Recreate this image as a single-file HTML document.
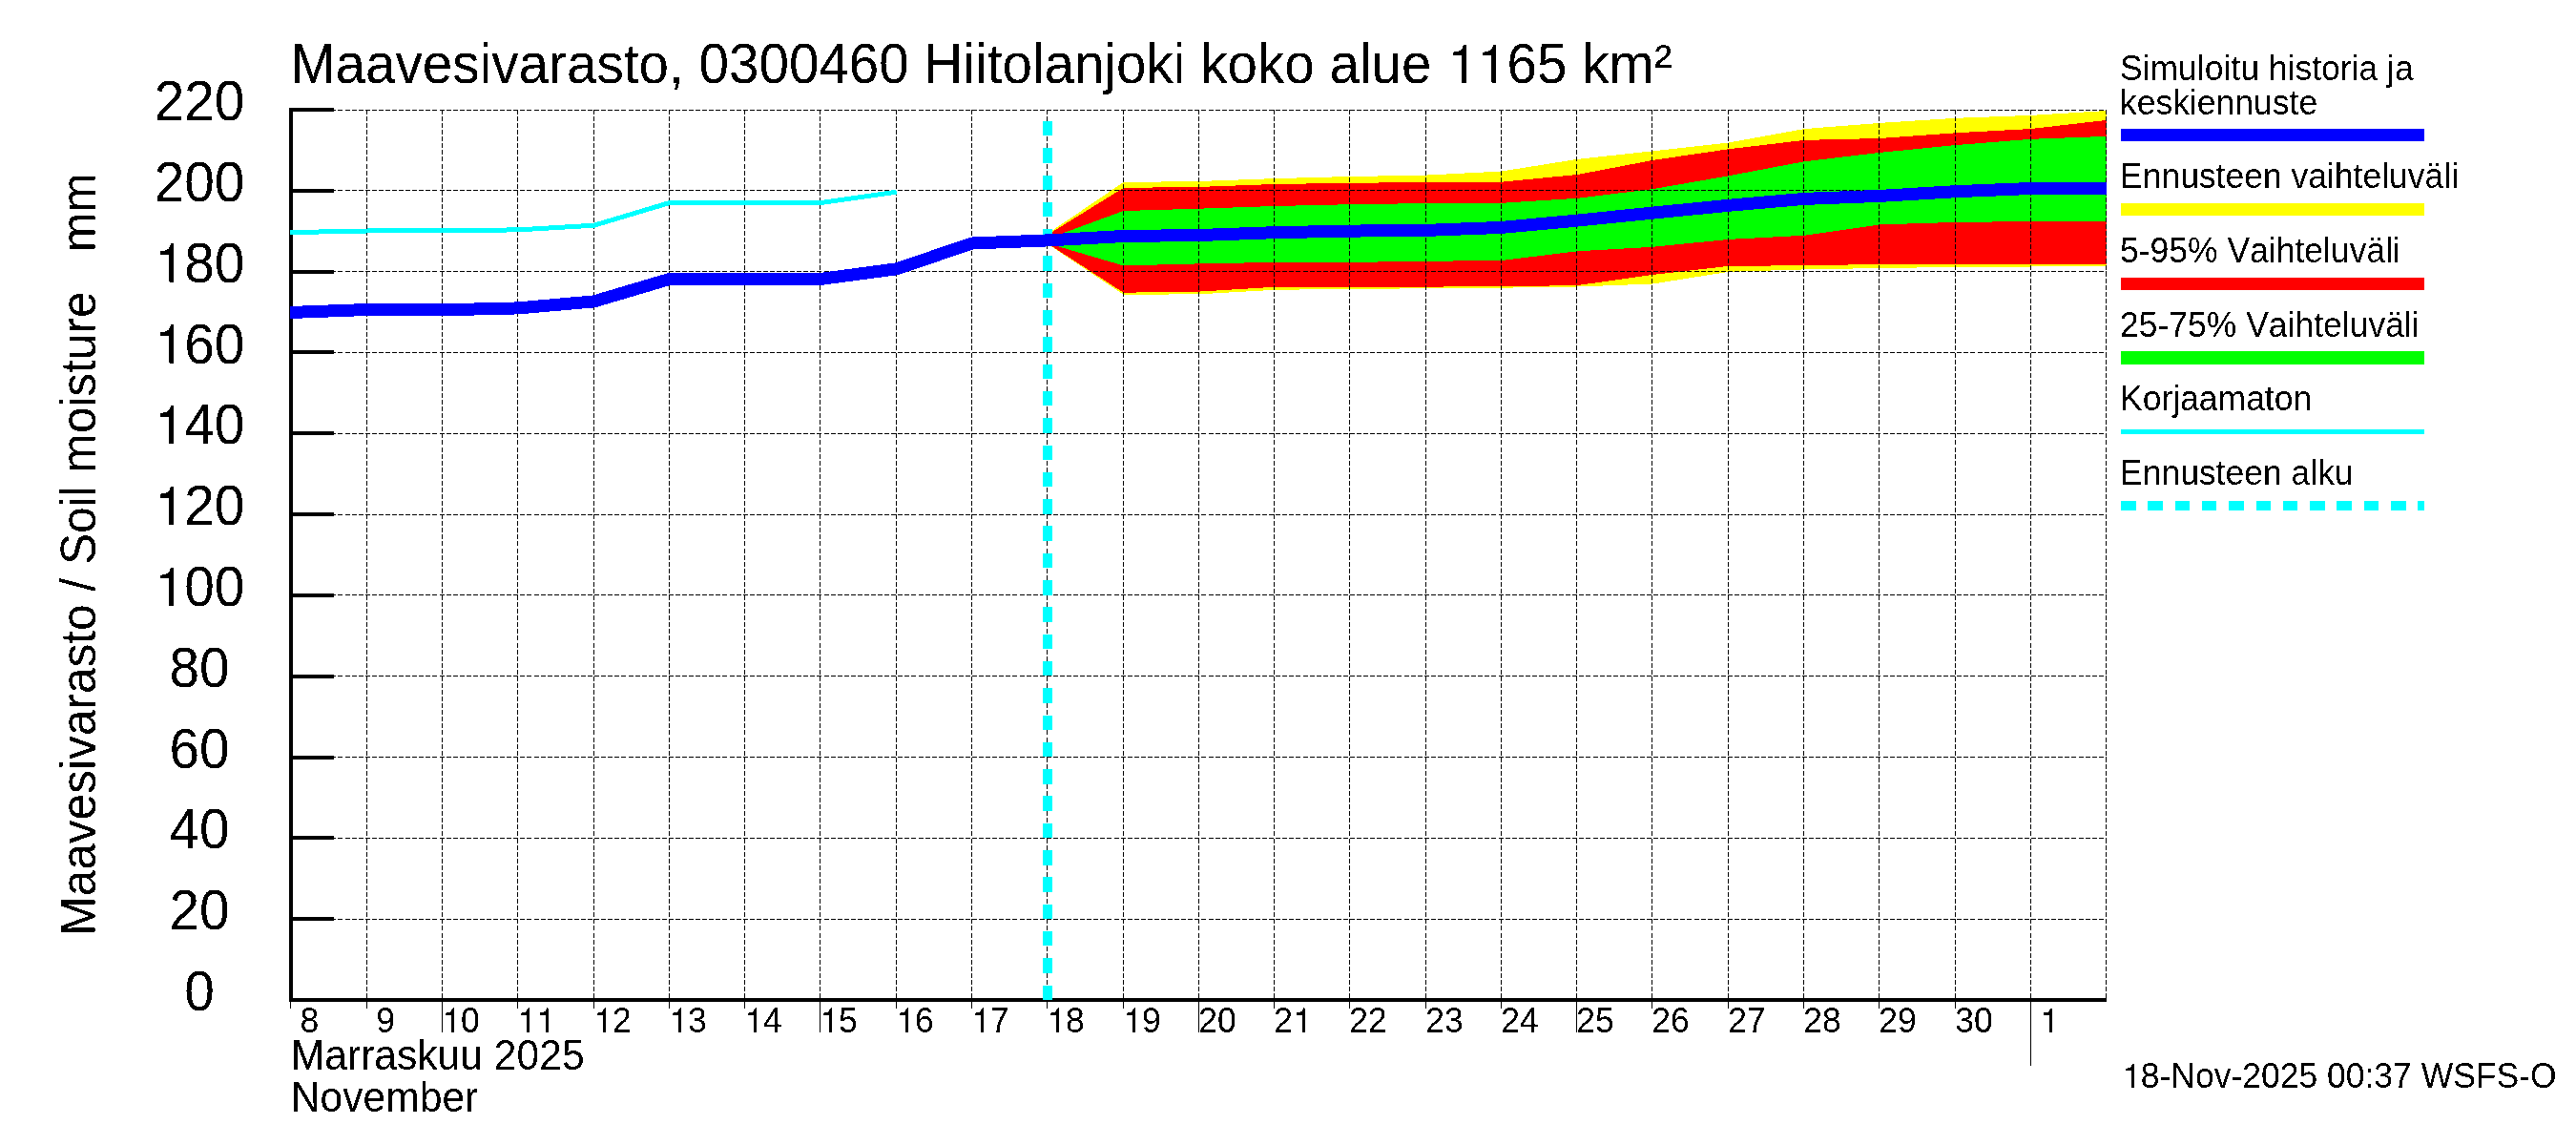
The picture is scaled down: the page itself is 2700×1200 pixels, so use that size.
<!DOCTYPE html>
<html><head><meta charset="utf-8"><title>Maavesivarasto</title>
<style>
html,body{margin:0;padding:0;background:#fff;}
body{width:2700px;height:1200px;overflow:hidden;}
svg{display:block;}
text{font-family:"Liberation Sans",sans-serif;fill:#000;font-kerning:none;}
.g{stroke:#000;stroke-width:1;stroke-dasharray:5 2.07;fill:none;}
.t{stroke:#000;stroke-width:1;}
.ax{stroke:#000;stroke-width:4;}
</style></head><body>
<svg width="2700" height="1200" viewBox="0 0 2700 1200" shape-rendering="crispEdges">
<rect x="0" y="0" width="2700" height="1200" fill="#fff"/>
<polygon fill="#ffff00" points="1098.2,244.8 1177.5,191 1256.8,190 1336.1,187.1 1415.4,185 1494.6,183.6 1573.9,179.5 1653.2,166.9 1732.5,158.3 1811.7,149.5 1891,135.1 1970.3,128.9 2049.6,123.8 2128.8,120.9 2208.1,116 2208.1,278.9 2128.8,279.5 2049.6,280 1970.3,281 1891,282.4 1811.7,284.9 1732.5,297.5 1653.2,300.5 1573.9,301.7 1494.6,302.3 1415.4,302.9 1336.1,303.8 1256.8,308.3 1177.5,308.8 1098.2,255.9"/>
<polygon fill="#ff0000" points="1098.2,246 1177.5,196.9 1256.8,195.9 1336.1,193 1415.4,191.8 1494.6,191 1573.9,190.7 1653.2,183 1732.5,167.9 1811.7,156.3 1891,146.9 1970.3,145 2049.6,139.3 2128.8,135 2208.1,125.9 2208.1,277 2128.8,277 2049.6,277 1970.3,277 1891,278.2 1811.7,278.9 1732.5,287.9 1653.2,299.1 1573.9,300.2 1494.6,300.6 1415.4,300.5 1336.1,300.8 1256.8,305.6 1177.5,306.7 1098.2,255.3"/>
<polygon fill="#00ff00" points="1098.2,250.2 1177.5,221 1256.8,218.7 1336.1,216 1415.4,214.2 1494.6,213.1 1573.9,212.8 1653.2,207.8 1732.5,198.1 1811.7,184.3 1891,169.3 1970.3,159.9 2049.6,152.1 2128.8,145.8 2208.1,142.9 2208.1,232.1 2128.8,232.1 2049.6,232.9 1970.3,235.4 1891,246.8 1811.7,250.9 1732.5,258.8 1653.2,263.3 1573.9,273 1494.6,273.8 1415.4,274.9 1336.1,274.9 1256.8,276.4 1177.5,278.4 1098.2,255.1"/>
<line class="g" x1="305" y1="963.5" x2="2208" y2="963.5"/>
<line class="g" x1="305" y1="878.5" x2="2208" y2="878.5"/>
<line class="g" x1="305" y1="793.5" x2="2208" y2="793.5"/>
<line class="g" x1="305" y1="708.5" x2="2208" y2="708.5"/>
<line class="g" x1="305" y1="623.5" x2="2208" y2="623.5"/>
<line class="g" x1="305" y1="539.5" x2="2208" y2="539.5"/>
<line class="g" x1="305" y1="454.5" x2="2208" y2="454.5"/>
<line class="g" x1="305" y1="369.5" x2="2208" y2="369.5"/>
<line class="g" x1="305" y1="284.5" x2="2208" y2="284.5"/>
<line class="g" x1="305" y1="199.5" x2="2208" y2="199.5"/>
<line class="g" x1="305" y1="115.5" x2="2208" y2="115.5"/>
<line class="g" x1="384.5" y1="115" x2="384.5" y2="1048"/>
<line class="g" x1="463.5" y1="115" x2="463.5" y2="1048"/>
<line class="g" x1="542.5" y1="115" x2="542.5" y2="1048"/>
<line class="g" x1="622.5" y1="115" x2="622.5" y2="1048"/>
<line class="g" x1="701.5" y1="115" x2="701.5" y2="1048"/>
<line class="g" x1="780.5" y1="115" x2="780.5" y2="1048"/>
<line class="g" x1="859.5" y1="115" x2="859.5" y2="1048"/>
<line class="g" x1="939.5" y1="115" x2="939.5" y2="1048"/>
<line class="g" x1="1018.5" y1="115" x2="1018.5" y2="1048"/>
<line class="g" x1="1097.5" y1="115" x2="1097.5" y2="1048"/>
<line class="g" x1="1177.5" y1="115" x2="1177.5" y2="1048"/>
<line class="g" x1="1256.5" y1="115" x2="1256.5" y2="1048"/>
<line class="g" x1="1335.5" y1="115" x2="1335.5" y2="1048"/>
<line class="g" x1="1414.5" y1="115" x2="1414.5" y2="1048"/>
<line class="g" x1="1494.5" y1="115" x2="1494.5" y2="1048"/>
<line class="g" x1="1573.5" y1="115" x2="1573.5" y2="1048"/>
<line class="g" x1="1652.5" y1="115" x2="1652.5" y2="1048"/>
<line class="g" x1="1731.5" y1="115" x2="1731.5" y2="1048"/>
<line class="g" x1="1811.5" y1="115" x2="1811.5" y2="1048"/>
<line class="g" x1="1890.5" y1="115" x2="1890.5" y2="1048"/>
<line class="g" x1="1969.5" y1="115" x2="1969.5" y2="1048"/>
<line class="g" x1="2049.5" y1="115" x2="2049.5" y2="1048"/>
<line class="g" x1="2128.5" y1="115" x2="2128.5" y2="1048"/>
<line class="g" x1="2207.5" y1="115" x2="2207.5" y2="1048"/>
<line class="ax" x1="305" y1="113" x2="305" y2="1050"/>
<line class="ax" x1="303" y1="1048" x2="2208" y2="1048"/>
<line class="ax" x1="303" y1="963" x2="350" y2="963"/>
<line class="ax" x1="303" y1="878" x2="350" y2="878"/>
<line class="ax" x1="303" y1="794" x2="350" y2="794"/>
<line class="ax" x1="303" y1="709" x2="350" y2="709"/>
<line class="ax" x1="303" y1="624" x2="350" y2="624"/>
<line class="ax" x1="303" y1="539" x2="350" y2="539"/>
<line class="ax" x1="303" y1="454" x2="350" y2="454"/>
<line class="ax" x1="303" y1="369" x2="350" y2="369"/>
<line class="ax" x1="303" y1="285" x2="350" y2="285"/>
<line class="ax" x1="303" y1="200" x2="350" y2="200"/>
<line class="ax" x1="303" y1="115" x2="350" y2="115"/>
<line class="t" x1="304.5" y1="1050" x2="304.5" y2="1057"/>
<line class="t" x1="384.5" y1="1050" x2="384.5" y2="1057"/>
<line class="t" x1="463.5" y1="1050" x2="463.5" y2="1082"/>
<line class="t" x1="542.5" y1="1050" x2="542.5" y2="1057"/>
<line class="t" x1="622.5" y1="1050" x2="622.5" y2="1057"/>
<line class="t" x1="701.5" y1="1050" x2="701.5" y2="1057"/>
<line class="t" x1="780.5" y1="1050" x2="780.5" y2="1057"/>
<line class="t" x1="859.5" y1="1050" x2="859.5" y2="1082"/>
<line class="t" x1="939.5" y1="1050" x2="939.5" y2="1057"/>
<line class="t" x1="1018.5" y1="1050" x2="1018.5" y2="1057"/>
<line class="t" x1="1097.5" y1="1050" x2="1097.5" y2="1057"/>
<line class="t" x1="1177.5" y1="1050" x2="1177.5" y2="1057"/>
<line class="t" x1="1256.5" y1="1050" x2="1256.5" y2="1082"/>
<line class="t" x1="1335.5" y1="1050" x2="1335.5" y2="1057"/>
<line class="t" x1="1414.5" y1="1050" x2="1414.5" y2="1057"/>
<line class="t" x1="1494.5" y1="1050" x2="1494.5" y2="1057"/>
<line class="t" x1="1573.5" y1="1050" x2="1573.5" y2="1057"/>
<line class="t" x1="1652.5" y1="1050" x2="1652.5" y2="1082"/>
<line class="t" x1="1731.5" y1="1050" x2="1731.5" y2="1057"/>
<line class="t" x1="1811.5" y1="1050" x2="1811.5" y2="1057"/>
<line class="t" x1="1890.5" y1="1050" x2="1890.5" y2="1057"/>
<line class="t" x1="1969.5" y1="1050" x2="1969.5" y2="1057"/>
<line class="t" x1="2049.5" y1="1050" x2="2049.5" y2="1057"/>
<line class="t" x1="2128.5" y1="1050" x2="2128.5" y2="1117"/>
<line x1="1098" y1="1048" x2="1098" y2="115" stroke="#00ffff" stroke-width="10" stroke-dasharray="15.5 12.8"/>
<polyline fill="none" stroke="#00ffff" stroke-width="5" stroke-linejoin="round" points="304,243.6 384.8,242 464.1,241.6 543.3,240.9 622.6,236.2 701.9,212.5 781.2,212.5 860.4,212.5 939.7,201.2"/>
<polyline fill="none" stroke="#0000ff" stroke-width="13" stroke-linejoin="round" points="304,327.5 384.8,324.5 464.1,324.8 543.3,322.9 622.6,315.9 701.9,292.4 781.2,292.4 860.4,292.4 939.7,281.8 1019,255 1098.2,251.9 1177.5,247.5 1256.8,246.5 1336.1,243.7 1415.4,242.1 1494.6,241.4 1573.9,238.4 1653.2,231.1 1732.5,223.1 1811.7,215.3 1891,208.4 1970.3,205.4 2049.6,200.7 2128.8,197.5 2208.1,197.5"/>
</svg>
<svg width="2700" height="1200" viewBox="0 0 2700 1200" style="position:absolute;left:0;top:0;">
<defs><filter id="th" filterUnits="userSpaceOnUse" x="0" y="0" width="2700" height="1200" color-interpolation-filters="sRGB"><feComponentTransfer><feFuncA type="discrete" tableValues="0 1"/></feComponentTransfer></filter></defs>
<g filter="url(#th)">
<g transform="translate(304.4,86.8)" font-size="56.64">
<text transform="scale(1,1.035)" x="0">Maavesivarasto, 0300460 Hiitolanjoki koko alue</text>
<path d="M359 0H271V505H109V568C252 586 275 601 307 709H359Z" transform="translate(1212.17,0) scale(0.05664,-0.05664)"/>
<path d="M359 0H271V505H109V568C252 586 275 601 307 709H359Z" transform="translate(1243.67,0) scale(0.05664,-0.05664)"/>
<text transform="scale(1,1.035)" x="1275.17">65 km²</text>
</g>
<text transform="translate(209,1059) scale(1,1.035)" x="-15.79" font-size="56.8">0</text>
<text transform="translate(209,974.2) scale(1,1.035)" x="-31.59" font-size="56.8">20</text>
<text transform="translate(209,889.4) scale(1,1.035)" x="-31.59" font-size="56.8">40</text>
<text transform="translate(209,804.5) scale(1,1.035)" x="-31.59" font-size="56.8">60</text>
<text transform="translate(209,719.7) scale(1,1.035)" x="-31.59" font-size="56.8">80</text>
<g transform="translate(209,634.9)" font-size="56.8">
<path d="M359 0H271V505H109V568C252 586 275 601 307 709H359Z" transform="translate(-47.38,0) scale(0.05680,-0.05680)"/>
<text transform="scale(1,1.035)" x="-15.79">00</text>
</g>
<g transform="translate(209,550.1)" font-size="56.8">
<path d="M359 0H271V505H109V568C252 586 275 601 307 709H359Z" transform="translate(-47.38,0) scale(0.05680,-0.05680)"/>
<text transform="scale(1,1.035)" x="-15.79">20</text>
</g>
<g transform="translate(209,465.3)" font-size="56.8">
<path d="M359 0H271V505H109V568C252 586 275 601 307 709H359Z" transform="translate(-47.38,0) scale(0.05680,-0.05680)"/>
<text transform="scale(1,1.035)" x="-15.79">40</text>
</g>
<g transform="translate(209,380.5)" font-size="56.8">
<path d="M359 0H271V505H109V568C252 586 275 601 307 709H359Z" transform="translate(-47.38,0) scale(0.05680,-0.05680)"/>
<text transform="scale(1,1.035)" x="-15.79">60</text>
</g>
<g transform="translate(209,295.6)" font-size="56.8">
<path d="M359 0H271V505H109V568C252 586 275 601 307 709H359Z" transform="translate(-47.38,0) scale(0.05680,-0.05680)"/>
<text transform="scale(1,1.035)" x="-15.79">80</text>
</g>
<text transform="translate(209,210.8) scale(1,1.035)" x="-47.38" font-size="56.8">200</text>
<text transform="translate(209,126) scale(1,1.035)" x="-47.38" font-size="56.8">220</text>
<text transform="translate(99.3,980.6) rotate(-90) scale(1,1.035)" font-size="49.6" xml:space="preserve">Maavesivarasto / Soil moisture   mm</text>
<text transform="translate(314.4,1081.7) scale(1,1.035)" font-size="35.5">8</text>
<text transform="translate(394.2,1081.7) scale(1,1.035)" font-size="35.5">9</text>
<g transform="translate(463.3,1081.7)" font-size="35.5">
<path d="M359 0H271V505H109V568C252 586 275 601 307 709H359Z" transform="translate(0,0) scale(0.03550,-0.03550)"/>
<text transform="scale(1,1.035)" x="19.74">0</text>
</g>
<g transform="translate(542.3,1081.7)" font-size="35.5">
<path d="M359 0H271V505H109V568C252 586 275 601 307 709H359Z" transform="translate(0,0) scale(0.03550,-0.03550)"/>
<path d="M359 0H271V505H109V568C252 586 275 601 307 709H359Z" transform="translate(19.74,0) scale(0.03550,-0.03550)"/>
</g>
<g transform="translate(622.3,1081.7)" font-size="35.5">
<path d="M359 0H271V505H109V568C252 586 275 601 307 709H359Z" transform="translate(0,0) scale(0.03550,-0.03550)"/>
<text transform="scale(1,1.035)" x="19.74">2</text>
</g>
<g transform="translate(701.3,1081.7)" font-size="35.5">
<path d="M359 0H271V505H109V568C252 586 275 601 307 709H359Z" transform="translate(0,0) scale(0.03550,-0.03550)"/>
<text transform="scale(1,1.035)" x="19.74">3</text>
</g>
<g transform="translate(780.3,1081.7)" font-size="35.5">
<path d="M359 0H271V505H109V568C252 586 275 601 307 709H359Z" transform="translate(0,0) scale(0.03550,-0.03550)"/>
<text transform="scale(1,1.035)" x="19.74">4</text>
</g>
<g transform="translate(859.3,1081.7)" font-size="35.5">
<path d="M359 0H271V505H109V568C252 586 275 601 307 709H359Z" transform="translate(0,0) scale(0.03550,-0.03550)"/>
<text transform="scale(1,1.035)" x="19.74">5</text>
</g>
<g transform="translate(939.3,1081.7)" font-size="35.5">
<path d="M359 0H271V505H109V568C252 586 275 601 307 709H359Z" transform="translate(0,0) scale(0.03550,-0.03550)"/>
<text transform="scale(1,1.035)" x="19.74">6</text>
</g>
<g transform="translate(1018.3,1081.7)" font-size="35.5">
<path d="M359 0H271V505H109V568C252 586 275 601 307 709H359Z" transform="translate(0,0) scale(0.03550,-0.03550)"/>
<text transform="scale(1,1.035)" x="19.74">7</text>
</g>
<g transform="translate(1097.3,1081.7)" font-size="35.5">
<path d="M359 0H271V505H109V568C252 586 275 601 307 709H359Z" transform="translate(0,0) scale(0.03550,-0.03550)"/>
<text transform="scale(1,1.035)" x="19.74">8</text>
</g>
<g transform="translate(1177.3,1081.7)" font-size="35.5">
<path d="M359 0H271V505H109V568C252 586 275 601 307 709H359Z" transform="translate(0,0) scale(0.03550,-0.03550)"/>
<text transform="scale(1,1.035)" x="19.74">9</text>
</g>
<text transform="translate(1256.3,1081.7) scale(1,1.035)" font-size="35.5">20</text>
<g transform="translate(1335.3,1081.7)" font-size="35.5">
<text transform="scale(1,1.035)" x="0">2</text>
<path d="M359 0H271V505H109V568C252 586 275 601 307 709H359Z" transform="translate(19.74,0) scale(0.03550,-0.03550)"/>
</g>
<text transform="translate(1414.3,1081.7) scale(1,1.035)" font-size="35.5">22</text>
<text transform="translate(1494.3,1081.7) scale(1,1.035)" font-size="35.5">23</text>
<text transform="translate(1573.3,1081.7) scale(1,1.035)" font-size="35.5">24</text>
<text transform="translate(1652.3,1081.7) scale(1,1.035)" font-size="35.5">25</text>
<text transform="translate(1731.3,1081.7) scale(1,1.035)" font-size="35.5">26</text>
<text transform="translate(1811.3,1081.7) scale(1,1.035)" font-size="35.5">27</text>
<text transform="translate(1890.3,1081.7) scale(1,1.035)" font-size="35.5">28</text>
<text transform="translate(1969.3,1081.7) scale(1,1.035)" font-size="35.5">29</text>
<text transform="translate(2049.3,1081.7) scale(1,1.035)" font-size="35.5">30</text>
<g transform="translate(2138.2,1081.7)" font-size="35.5">
<path d="M359 0H271V505H109V568C252 586 275 601 307 709H359Z" transform="translate(0,0) scale(0.03550,-0.03550)"/>
</g>
<text transform="translate(304.8,1121) scale(1,1.035)" font-size="42.6">Marraskuu 2025</text>
<text transform="translate(304.8,1164.7) scale(1,1.035)" font-size="42.6">November</text>
<g transform="translate(2224,1140)" font-size="35.5">
<path d="M359 0H271V505H109V568C252 586 275 601 307 709H359Z" transform="translate(0,0) scale(0.03550,-0.03550)"/>
<text transform="scale(1,1.035)" x="19.74">8-Nov-2025 00:37 WSFS-O</text>
</g>
<text transform="translate(2222,84.3) scale(1,1.035)" font-size="35.5">Simuloitu historia ja</text>
<text transform="translate(2222,119.5) scale(1,1.035)" font-size="35.5">keskiennuste</text>
<text transform="translate(2222,196.7) scale(1,1.035)" font-size="35.5">Ennusteen vaihteluväli</text>
<text transform="translate(2222,275) scale(1,1.035)" font-size="35.5">5-95% Vaihteluväli</text>
<text transform="translate(2222,353) scale(1,1.035)" font-size="35.5">25-75% Vaihteluväli</text>
<text transform="translate(2222,430) scale(1,1.035)" font-size="35.5">Korjaamaton</text>
<text transform="translate(2222,508) scale(1,1.035)" font-size="35.5">Ennusteen alku</text>
</g>
<g shape-rendering="crispEdges">
<rect x="2223" y="135" width="318" height="13" fill="#0000ff"/>
<rect x="2223" y="213" width="318" height="13" fill="#ffff00"/>
<rect x="2223" y="291" width="318" height="13" fill="#ff0000"/>
<rect x="2223" y="368" width="318" height="14" fill="#00ff00"/>
<rect x="2223" y="450" width="318" height="5" fill="#00ffff"/>
<line x1="2223" y1="530" x2="2541" y2="530" stroke="#00ffff" stroke-width="10" stroke-dasharray="15.5 12.8"/>
</g>
</svg>
</body></html>
